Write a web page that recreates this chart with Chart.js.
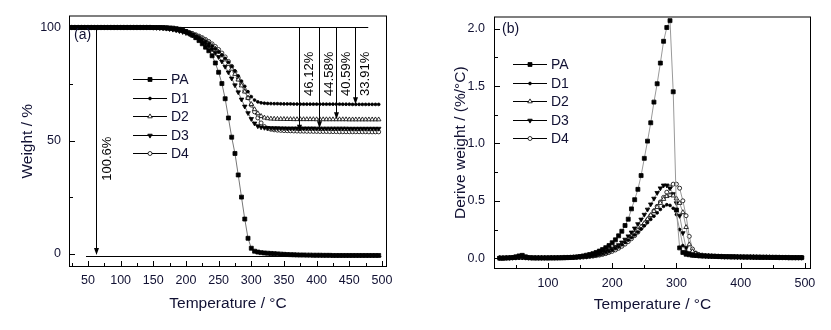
<!DOCTYPE html>
<html><head><meta charset="utf-8">
<script src="https://cdn.jsdelivr.net/npm/chart.js@4/dist/chart.umd.min.js"></script>
<style>
html,body{margin:0;padding:0;background:#fff;width:831px;height:330px;overflow:hidden}
#wa{position:absolute;left:0;top:0;width:400px;height:330px}
#wb{position:absolute;left:420px;top:0;width:411px;height:330px}
</style></head><body>
<div id="wa"><canvas id="ca" width="400" height="330"></canvas></div>
<div id="wb"><canvas id="cb" width="411" height="330"></canvas></div>
<script>
// ---------------- DATA ----------------
const seriesNames = ['PA','D1','D2','D3','D4'];
const temperature = [25,30,35,40,45,50,55,60,65,70,
 75,80,85,90,95,100,105,110,115,120,
 125,130,135,140,145,150,155,160,165,170,
 175,180,185,190,195,200,205,210,215,220,
 225,230,235,240,245,250,255,260,265,270,
 275,280,285,290,295,300,305,310,315,320,
 325,330,335,340,345,350,355,360,365,370,
 375,380,385,390,395,400,405,410,415,420,
 425,430,435,440,445,450,455,460,465,470,
 475,480,485,490,495];

// (a) weight, %
const weightPA = [100,100,100,100,100,100,100,100,100,100,
 100,100,100,100,100,100,100,100,100,100,
 100,100,100,100,100,100,100,100,99.95,99.9,
 99.8,99.7,99.5,99.2,98.8,98.2,97.5,96.6,95.5,94.2,
 92.8,91.3,89.7,87.5,84.3,80.2,75.2,68.5,60,51.5,
 44.3,34.8,25,15.3,6.8,2.4,1.1,0.7,0.45,0.3,
 0.2,0.1,0,-0.1,-0.2,-0.3,-0.4,-0.45,-0.5,-0.55,
 -0.6,-0.6,-0.65,-0.65,-0.7,-0.7,-0.7,-0.75,-0.75,-0.75,
 -0.8,-0.8,-0.8,-0.8,-0.8,-0.8,-0.8,-0.8,-0.8,-0.8,
 -0.8,-0.8,-0.8,-0.8,-0.8];
const weightD1 = [100,100,100,100,100,100,100,100,100,100,
 100,100,100,100,100,100,100,100,100,100,
 100,100,100,100,100,99.95,99.9,99.85,99.75,99.6,
 99.4,99.2,98.9,98.6,98.2,97.8,97.3,96.8,96.2,95.5,
 94.7,93.8,92.8,91.7,90.5,89.2,87.8,86.3,84.6,82.8,
 80.8,78.6,76.3,74,71.6,69.4,67.9,67.1,66.7,66.5,
 66.4,66.35,66.3,66.3,66.25,66.2,66.2,66.2,66.15,66.15,
 66.1,66.1,66.1,66.1,66.1,66.1,66.1,66.1,66.1,66.1,
 66.1,66.1,66.1,66.05,66.05,66.05,66,66,66,66,
 66,66,66,66,66];
const weightD2 = [100,100,100,100,100,100,100,100,100,100,
 100,100,100,100,100,100,100,100,100,100,
 100,100,100,100,100,99.95,99.9,99.85,99.75,99.6,
 99.45,99.25,99,98.7,98.35,97.95,97.5,97,96.4,95.7,
 94.9,94,93,91.85,90.6,89.2,87.6,85.8,83.8,81.7,
 79.4,76.9,74.3,71.6,68.8,66.1,63.8,62,60.8,60.1,
 59.8,59.65,59.6,59.55,59.5,59.5,59.45,59.45,59.4,59.4,
 59.4,59.4,59.4,59.4,59.4,59.35,59.35,59.35,59.35,59.35,
 59.35,59.35,59.35,59.35,59.35,59.3,59.3,59.3,59.3,59.3,
 59.3,59.3,59.3,59.3,59.3];
const weightD3 = [100,100,100,100,100,100,100,100,100,100,
 100,100,100,100,100,100,100,100,100,100,
 100,100,100,100,100,99.95,99.9,99.8,99.7,99.55,
 99.35,99.1,98.8,98.45,98.05,97.6,97.1,96.5,95.8,95,
 94.1,93,91.8,90.4,88.8,87,85,82.7,80.2,77.5,
 74.5,71.4,68.2,65.1,62.2,59.6,57.6,56.4,55.9,55.7,
 55.6,55.55,55.5,55.5,55.45,55.45,55.4,55.4,55.4,55.4,
 55.4,55.4,55.4,55.4,55.4,55.35,55.35,55.35,55.35,55.35,
 55.35,55.35,55.35,55.35,55.35,55.3,55.3,55.3,55.3,55.3,
 55.3,55.3,55.3,55.3,55.3];
const weightD4 = [100,100,100,100,100,100,100,100,100,100,
 100,100,100,100,100,100,100,100,100,100,
 100,100,100,100,100,99.95,99.9,99.85,99.75,99.65,
 99.5,99.3,99.1,98.85,98.55,98.2,97.8,97.35,96.8,96.2,
 95.5,94.7,93.8,92.75,91.6,90.25,88.7,87,85,82.8,
 80.4,77.8,75,72,68.9,65.7,62.7,60,57.8,56.2,
 55.4,55,54.75,54.6,54.5,54.4,54.35,54.3,54.25,54.2,
 54.15,54.15,54.1,54.1,54.05,54.05,54,54,54,53.95,
 53.95,53.95,53.9,53.9,53.9,53.9,53.9,53.9,53.9,53.9,
 53.9,53.85,53.85,53.85,53.85];

// (b) derivative weight, %/°C
const dtgPA = [0,0,0.002,0.003,0.006,0.012,0.02,0.025,0.012,0.005,
 0.003,0.002,0.002,0.002,0.002,0.002,0.002,0.002,0.003,0.003,
 0.004,0.005,0.006,0.008,0.011,0.015,0.02,0.026,0.032,0.04,
 0.05,0.062,0.075,0.092,0.11,0.135,0.16,0.195,0.235,0.285,
 0.34,0.43,0.51,0.6,0.72,0.87,1.02,1.18,1.36,1.52,
 1.7,1.89,2.01,2.07,1.45,0.42,0.09,0.05,0.035,0.03,
 0.026,0.024,0.022,0.02,0.019,0.018,0.017,0.016,0.015,0.014,
 0.013,0.013,0.012,0.012,0.011,0.011,0.01,0.01,0.01,0.009,
 0.009,0.008,0.008,0.008,0.007,0.007,0.007,0.006,0.006,0.006,
 0.005,0.005,0.005,0.005,0.005];
const dtgD1 = [0.003,0.003,0.004,0.004,0.005,0.006,0.008,0.008,0.006,0.005,
 0.004,0.004,0.004,0.004,0.004,0.004,0.005,0.005,0.005,0.006,
 0.006,0.007,0.008,0.009,0.01,0.011,0.013,0.015,0.018,0.022,
 0.027,0.033,0.04,0.05,0.06,0.072,0.086,0.1,0.118,0.137,
 0.157,0.18,0.203,0.228,0.255,0.282,0.31,0.338,0.366,0.395,
 0.425,0.452,0.466,0.46,0.435,0.38,0.25,0.11,0.055,0.035,
 0.028,0.024,0.022,0.02,0.019,0.018,0.017,0.016,0.015,0.014,
 0.013,0.013,0.012,0.012,0.011,0.011,0.01,0.01,0.01,0.009,
 0.009,0.008,0.008,0.008,0.007,0.007,0.007,0.006,0.006,0.006,
 0.005,0.005,0.005,0.005,0.005];
const dtgD2 = [0.003,0.003,0.003,0.004,0.004,0.005,0.006,0.006,0.005,0.004,
 0.004,0.004,0.004,0.004,0.004,0.004,0.005,0.005,0.005,0.005,
 0.006,0.006,0.007,0.008,0.009,0.01,0.012,0.014,0.017,0.021,
 0.026,0.032,0.039,0.047,0.057,0.07,0.085,0.1,0.12,0.14,
 0.165,0.19,0.215,0.245,0.275,0.305,0.34,0.375,0.41,0.445,
 0.48,0.515,0.54,0.55,0.545,0.52,0.48,0.4,0.27,0.12,
 0.06,0.04,0.03,0.025,0.022,0.02,0.018,0.017,0.016,0.015,
 0.014,0.013,0.013,0.012,0.012,0.011,0.011,0.01,0.01,0.01,
 0.009,0.009,0.008,0.008,0.008,0.007,0.007,0.007,0.006,0.006,
 0.006,0.005,0.005,0.005,0.005];
const dtgD3 = [0.003,0.003,0.004,0.004,0.005,0.006,0.007,0.007,0.006,0.005,
 0.004,0.004,0.004,0.004,0.004,0.004,0.005,0.005,0.005,0.006,
 0.006,0.007,0.008,0.01,0.011,0.013,0.015,0.018,0.022,0.027,
 0.033,0.04,0.049,0.06,0.072,0.085,0.1,0.115,0.138,0.163,
 0.192,0.225,0.26,0.298,0.338,0.38,0.425,0.47,0.52,0.57,
 0.61,0.635,0.635,0.61,0.56,0.48,0.37,0.22,0.09,0.045,
 0.03,0.025,0.022,0.02,0.019,0.018,0.017,0.016,0.015,0.014,
 0.013,0.013,0.012,0.012,0.011,0.011,0.01,0.01,0.01,0.009,
 0.009,0.008,0.008,0.008,0.007,0.007,0.007,0.006,0.006,0.006,
 0.005,0.005,0.005,0.005,0.005];
const dtgD4 = [0.003,0.003,0.003,0.004,0.004,0.005,0.006,0.006,0.005,0.004,
 0.004,0.004,0.004,0.004,0.004,0.004,0.005,0.005,0.005,0.005,
 0.005,0.006,0.006,0.007,0.008,0.008,0.01,0.012,0.015,0.018,
 0.022,0.027,0.033,0.04,0.05,0.06,0.072,0.087,0.104,0.123,
 0.145,0.17,0.197,0.227,0.26,0.295,0.333,0.372,0.412,0.452,
 0.49,0.53,0.575,0.62,0.645,0.645,0.61,0.5,0.37,0.19,
 0.08,0.045,0.03,0.025,0.022,0.02,0.018,0.017,0.016,0.015,
 0.014,0.013,0.013,0.012,0.012,0.011,0.011,0.01,0.01,0.01,
 0.009,0.009,0.008,0.008,0.008,0.007,0.007,0.007,0.006,0.006,
 0.006,0.005,0.005,0.005,0.005];

// ticks
const xTicksA = [50,100,150,200,250,300,350,400,450,500];
const xMinorA = [25,75,125,175,225,275,325,375,425,475];
const yTicksA = [0,50,100];
const yMinorA = [25,75];
const xTicksB = [100,200,300,400,500];
const xMinorB = [50,150,250,350,450];
const yTicksB = [0,0.5,1,1.5,2];
const yTickLabelsB = ['0.0','0.5','1.0','1.5','2.0'];
const yMinorB = [0.25,0.75,1.25,1.75];

// annotations of (a)
const lossLabels = ['46.12%','44.58%','40.59%','33.91%'];
const lossValues = [46.12,44.58,40.59,33.91];
const lossArrowT = [373,404,430,458];
const totalLossLabel = '100.6%';
const totalLossValue = 100.6;
const totalLossArrowT = 62;
const topLineValue = 100.3;
const baseLineValue = -1.2;

// ---------------- STYLE ----------------
const FONT = "'Liberation Sans', Arial, Helvetica, sans-serif";
const TXT = '#111133';
const markerStyles = [
  {pointStyle:'rect', radius:2.8, rotation:0, fill:'#000'},
  {pointStyle:'circle', radius:1.4, rotation:0, fill:'#000'},
  {pointStyle:'triangle', radius:2.6, rotation:0, fill:'#fff'},
  {pointStyle:'triangle', radius:2.6, rotation:180, fill:'#000'},
  {pointStyle:'circle', radius:2.0, rotation:0, fill:'#fff'}
];

function drawMarker(ctx, st, x, y){
  ctx.save();
  ctx.fillStyle = st.fill; ctx.strokeStyle = '#000'; ctx.lineWidth = 0.8;
  if (Chart.helpers && Chart.helpers.drawPoint){
    Chart.helpers.drawPoint(ctx, {pointStyle:st.pointStyle, radius:st.radius, rotation:st.rotation, borderWidth:0.8}, x, y);
  } else {
    ctx.beginPath();
    if (st.pointStyle === 'rect'){ const s = st.radius*Math.SQRT1_2; ctx.rect(x-s,y-s,2*s,2*s); }
    else if (st.pointStyle === 'circle'){ ctx.arc(x,y,st.radius,0,Math.PI*2); }
    else { const r = st.radius, d = st.rotation ? -1 : 1;
      ctx.moveTo(x, y - d*r); ctx.lineTo(x + 0.866*r, y + d*r/2); ctx.lineTo(x - 0.866*r, y + d*r/2); ctx.closePath(); }
    ctx.fill(); ctx.stroke();
  }
  ctx.restore();
}

function makeDatasets(arrs, lineColor){
  return arrs.map((arr,i)=>({
    label: seriesNames[i],
    data: temperature.map((t,j)=>({x:t, y:arr[j]})),
    borderColor: lineColor, borderWidth: 1,
    pointStyle: markerStyles[i].pointStyle,
    pointRadius: markerStyles[i].radius,
    pointHoverRadius: markerStyles[i].radius,
    pointRotation: markerStyles[i].rotation,
    pointBackgroundColor: markerStyles[i].fill,
    pointBorderColor: '#000',
    pointBorderWidth: 0.8,
    tension: 0, fill: false
  }));
}

function decoPlugin(cfg){
  return {
    id: 'deco' + cfg.name,
    afterDatasetsDraw(chart){
      const ctx = chart.ctx, a = chart.chartArea, xs = chart.scales.x, ys = chart.scales.y;
      ctx.save();
      ctx.strokeStyle = '#000'; ctx.lineWidth = 1;
      if (cfg.annot) cfg.annot(ctx, a, xs, ys);
      ctx.strokeStyle = '#000'; ctx.lineWidth = 1;
      ctx.strokeRect(a.left+0.5, a.top+0.5, a.right-a.left-1, a.bottom-a.top-1);
      ctx.beginPath();
      const tx = (vals,len)=>vals.forEach(v=>{ const p = Math.round(xs.getPixelForValue(v))+0.5; ctx.moveTo(p, a.bottom-1); ctx.lineTo(p, a.bottom-1-len); });
      const ty = (vals,len)=>vals.forEach(v=>{ const p = Math.round(ys.getPixelForValue(v))+0.5; ctx.moveTo(a.left+1, p); ctx.lineTo(a.left+1+len, p); });
      tx(cfg.xMajor,5); tx(cfg.xMinor,3); ty(cfg.yMajor,5); ty(cfg.yMinor,3);
      ctx.stroke();
      const L = cfg.legend;
      ctx.font = '14px ' + FONT; ctx.textBaseline = 'middle'; ctx.textAlign = 'left'; ctx.fillStyle = TXT;
      seriesNames.forEach((n,i)=>{
        const y = Math.round(L.y0 + i*L.dy) + 0.5;
        ctx.strokeStyle = '#000'; ctx.lineWidth = 1;
        ctx.beginPath(); ctx.moveTo(L.x1, y); ctx.lineTo(L.x2, y); ctx.stroke();
        drawMarker(ctx, markerStyles[i], (L.x1+L.x2)/2, y);
        ctx.fillStyle = TXT; ctx.fillText(n, L.x2 + 4, y + 1);
      });
      ctx.font = '14px ' + FONT; ctx.fillStyle = TXT; ctx.textAlign = 'left'; ctx.textBaseline = 'middle';
      ctx.fillText(cfg.tag, a.left + cfg.tagDx, a.top + cfg.tagDy);
      ctx.restore();
    }
  };
}

function arrowDown(ctx, x, y1, y2){
  ctx.beginPath(); ctx.moveTo(x, y1); ctx.lineTo(x, y2 - 5); ctx.stroke();
  ctx.beginPath(); ctx.moveTo(x - 2.5, y2 - 7); ctx.lineTo(x + 2.5, y2 - 7); ctx.lineTo(x, y2); ctx.closePath(); ctx.fill();
}
function vText(ctx, s, x, y){
  ctx.save(); ctx.translate(x, y); ctx.rotate(-Math.PI/2);
  ctx.textAlign = 'center'; ctx.textBaseline = 'middle'; ctx.fillText(s, 0, 0); ctx.restore();
}

function annotA(ctx, a, xs, ys){
  ctx.strokeStyle = '#000'; ctx.fillStyle = '#000'; ctx.lineWidth = 1;
  const yTop = Math.round(ys.getPixelForValue(topLineValue)) + 0.5;
  const yBase = Math.round(ys.getPixelForValue(baseLineValue)) + 0.5;
  ctx.beginPath();
  ctx.moveTo(xs.getPixelForValue(temperature[0]), yTop); ctx.lineTo(xs.getPixelForValue(479), yTop);
  ctx.moveTo(xs.getPixelForValue(47), yBase); ctx.lineTo(xs.getPixelForValue(499), yBase);
  ctx.stroke();
  ctx.font = '13px ' + FONT;
  lossValues.forEach((v,i)=>{
    const x = Math.round(xs.getPixelForValue(lossArrowT[i])) + 0.5;
    arrowDown(ctx, x, yTop, ys.getPixelForValue(100 - v));
    vText(ctx, lossLabels[i], x + 9.5, ys.getPixelForValue(79.5));
  });
  const x0 = Math.round(xs.getPixelForValue(totalLossArrowT)) + 0.5;
  arrowDown(ctx, x0, yTop, ys.getPixelForValue(100 - totalLossValue));
  vText(ctx, totalLossLabel, x0 + 10.5, ys.getPixelForValue(42));
}

function baseOptions(o){
  return {
    responsive: false, animation: false, devicePixelRatio: 1, events: [],
    layout: {padding: o.pad},
    plugins: {legend: {display: false}, tooltip: {enabled: false}},
    scales: {
      x: {
        type: 'linear', min: o.xMin, max: o.xMax,
        grid: {display: false, drawTicks: false}, border: {display: false},
        ticks: {includeBounds: false, padding: o.xPad, color: TXT, font: {family: FONT, size: 12.5}, maxRotation: 0, autoSkip: false,
                callback: v => String(v)},
        afterBuildTicks: s => { s.ticks = o.xMajor.map(v => ({value: v})); },
        afterFit: s => { s.height = o.xH; },
        title: {display: true, text: 'Temperature / °C', color: TXT, font: {family: FONT, size: 15.5}, padding: {top: 0, bottom: o.xTitlePad}}
      },
      y: {
        type: 'linear', min: o.yMin, max: o.yMax,
        grid: {display: false, drawTicks: false}, border: {display: false},
        ticks: {includeBounds: false, padding: o.yPad, color: TXT, font: {family: FONT, size: 12.5}, autoSkip: false,
                callback: o.yFmt},
        afterBuildTicks: s => { s.ticks = o.yMajor.map(v => ({value: v})); },
        afterFit: s => { s.width = o.yW; },
        title: {display: true, text: o.yTitle, color: TXT, font: {family: FONT, size: 15.5}, padding: {top: o.yTitlePad, bottom: 0}}
      }
    }
  };
}

new Chart(document.getElementById('ca'), {
  type: 'line',
  data: {datasets: makeDatasets([weightPA, weightD1, weightD2, weightD3, weightD4], '#777')},
  options: baseOptions({pad: {left: 0, right: 13, top: 9, bottom: 0}, xMin: 21, xMax: 507.7, yMin: -5.9, yMax: 105.3,
    xMajor: xTicksA, yMajor: yTicksA, xH: 63, yW: 69, xPad: 6, yPad: 8, xTitlePad: 17, yTitlePad: 18,
    yTitle: 'Weight / %', yFmt: v => String(v)}),
  plugins: [decoPlugin({name: 'A', xMajor: xTicksA, xMinor: xMinorA, yMajor: yTicksA, yMinor: yMinorA,
    legend: {x1: 133, x2: 167, y0: 79, dy: 18.6}, tag: '(a)', tagDx: 5, tagDy: 20, annot: annotA})]
});

new Chart(document.getElementById('cb'), {
  type: 'line',
  data: {datasets: makeDatasets([dtgPA, dtgD1, dtgD2, dtgD3, dtgD4], '#999')},
  options: baseOptions({pad: {left: 0, right: 20, top: 11, bottom: 0}, xMin: 16, xMax: 509.5, yMin: -0.094, yMax: 2.106,
    xMajor: xTicksB, yMajor: yTicksB, xH: 61, yW: 74, xPad: 7, yPad: 9, xTitlePad: 16, yTitlePad: 31,
    yTitle: 'Derive weight / (%/°C)', yFmt: v => yTickLabelsB[yTicksB.indexOf(v)]}),
  plugins: [decoPlugin({name: 'B', xMajor: xTicksB, xMinor: xMinorB, yMajor: yTicksB, yMinor: yMinorB,
    legend: {x1: 93, x2: 127, y0: 64, dy: 18.5}, tag: '(b)', tagDx: 8, tagDy: 13})]
});
</script>
</body></html>
